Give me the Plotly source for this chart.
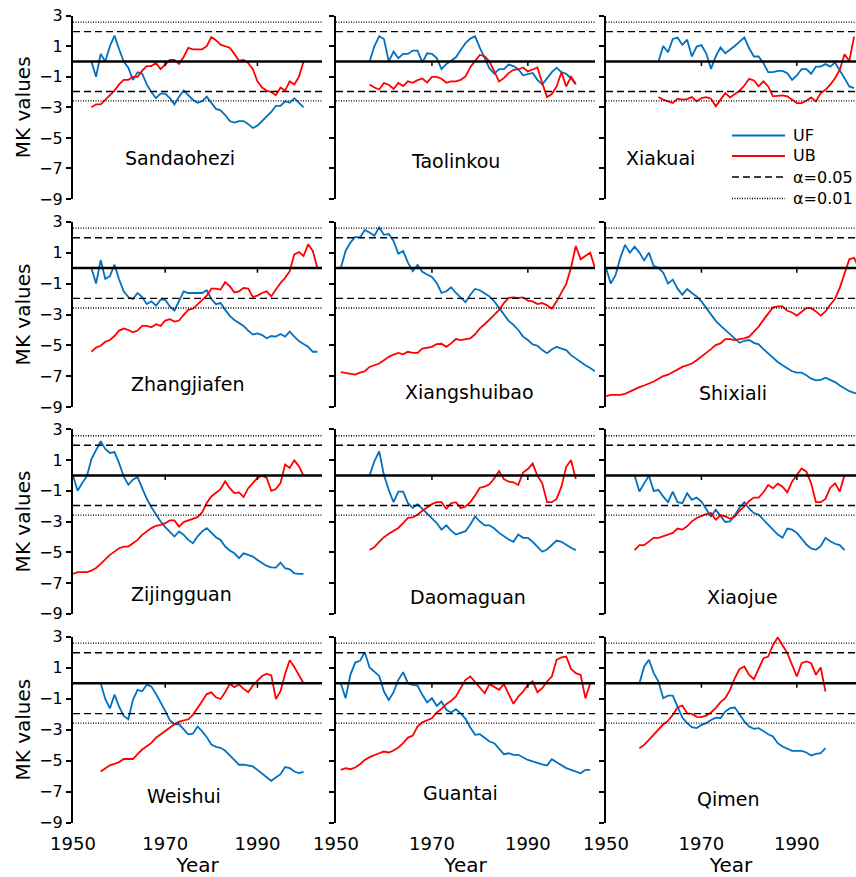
import plotly.graph_objects as go

# ---------------- data: Mann-Kendall statistics per station ----------------
stations = ["Sandaohezi", "Taolinkou", "Xiakuai",
            "Zhangjiafen", "Xiangshuibao", "Shixiali",
            "Zijingguan", "Daomaguan", "Xiaojue",
            "Weishui", "Guantai", "Qimen"]

start_year = {
    "Sandaohezi": 1954, "Taolinkou": 1957, "Xiakuai": 1961,
    "Zhangjiafen": 1954, "Xiangshuibao": 1951, "Shixiali": 1950,
    "Zijingguan": 1950, "Daomaguan": 1957, "Xiaojue": 1956,
    "Weishui": 1956, "Guantai": 1951, "Qimen": 1957,
}

uf_sandaohezi = [0, -1, 0.5, 0, 1, 1.7, 0.8, 0, -0.4, -1.2, -0.7, -0.8, -1.5, -2.0, -2.4, -2.1, -2.1, -2.4,
                 -2.8, -2.3, -1.9, -2.2, -2.5, -2.7, -2.6, -2.3, -2.7, -3.1, -3.2, -3.5, -3.9, -4.0, -3.9,
                 -3.9, -4.1, -4.35, -4.2, -3.9, -3.6, -3.3, -2.9, -2.9, -2.6, -2.7, -2.4, -2.7, -3.0]
ub_sandaohezi = [-3.0, -2.8, -2.8, -2.5, -2.2, -1.9, -1.5, -1.2, -1.2, -1.0, -1.0, -0.6, -0.3, -0.3, -0.1,
                 -0.5, -0.2, 0.1, 0.1, -0.15, 0.3, 0.9, 0.8, 0.8, 0.8, 1.0, 1.6, 1.4, 1.1, 1.0, 0.9, 0.5,
                 0.05, 0.1, -0.1, -0.5, -1.3, -1.7, -1.9, -2.0, -2.2, -1.7, -1.9, -1.3, -1.5, -1.0, 0]

uf_taolinkou = [0, 1.0, 1.65, 1.47, 0, 0.65, 0.22, 0.5, 0.5, 0.72, 0.72, -0.07, 0.54, 0.5, 0.22, -0.5,
                -0.17, 0.05, 0.28, 0.76, 1.2, 1.5, 1.65, 0.9, 0.2, -0.45, -0.8, -0.5, -0.5, -0.2, -0.3,
                -0.5, -0.9, -0.8, -0.75, -1.2, -1.5, -1.1, -0.7, -0.4, -0.7, -0.8, -1.1, -1.5]
ub_taolinkou = [-1.50, -1.70, -1.83, -1.41, -1.52, -1.80, -1.41, -1.61, -1.30, -1.39, -1.22, -1.11, -1.37,
                -1.0, -1.0, -1.13, -1.39, -1.30, -1.30, -1.20, -0.98, -0.37, 0.04, 0.43, 0.35, 0, -0.65,
                -1.30, -1.09, -0.76, -0.54, -0.52, -0.39, -0.65, -0.52, -0.39, -1.41, -2.33, -2.13, -1.63,
                -0.70, -1.63, -1.0, -1.46]

uf_xiakuai = [0, 1.02, 0.61, 1.48, 1.57, 1.09, 1.43, 0.33, 0.98, 1.07, 0.54, -0.48, 0.33, 0.93, 0.54,
              0.76, 1.02, 1.30, 1.57, 0.87, 0.33, 0.33, -0.11, -0.70, -0.70, -0.61, -0.61, -0.76, -1.20,
              -0.91, -0.50, -0.50, -0.80, -0.33, -0.33, -0.17, -0.33, -0.07, -0.54, -1.09, -1.63, -1.74]
ub_xiakuai = [-2.33, -2.5, -2.61, -2.72, -2.43, -2.5, -2.46, -2.33, -2.61, -2.39, -2.33, -2.43, -2.93,
              -2.5, -2.07, -2.35, -2.11, -1.91, -1.57, -1.13, -1.24, -1.63, -1.30, -1.63, -2.28, -2.24,
              -2.22, -2.28, -2.5, -2.72, -2.72, -2.57, -2.35, -2.61, -2.07, -1.85, -1.52, -1.09, -0.54,
              0.48, 0.04, 1.63]

uf_zhangjiafen = [0, -1.0, 0.52, -0.70, -0.52, 0.22, -0.74, -1.5, -1.87, -2.0, -1.61, -1.87, -2.33, -2.15,
                  -2.43, -2.04, -2.04, -2.48, -2.74, -2.09, -1.5, -1.61, -1.61, -1.61, -1.61, -1.43, -2.0,
                  -2.33, -2.26, -2.70, -3.09, -3.35, -3.57, -3.74, -4.04, -4.30, -4.22, -4.33, -4.54,
                  -4.39, -4.43, -4.26, -4.43, -4.11, -4.43, -4.72, -4.91, -5.09, -5.41, -5.41]
ub_zhangjiafen = [-5.41, -5.13, -5.02, -4.76, -4.65, -4.39, -4.04, -3.91, -4.0, -4.15, -4.04, -3.74, -3.74,
                  -3.83, -3.63, -3.74, -3.39, -3.30, -3.46, -3.39, -3.02, -2.70, -2.63, -2.33, -2.04,
                  -1.78, -1.33, -1.33, -1.39, -0.91, -1.17, -1.57, -1.50, -1.28, -1.33, -1.87, -1.78,
                  -1.61, -1.50, -1.83, -1.39, -0.96, -0.63, -0.20, 0.89, 1.04, 0.78, 1.54, 1.11, 0]

uf_xiangshuibao = [0, 1.11, 1.65, 2.02, 1.98, 2.46, 2.30, 2.09, 2.63, 2.15, 2.20, 1.76, 0.93, 1.11, 0.35,
                   -0.20, 0.20, -0.24, -0.41, -0.57, -0.96, -1.61, -1.50, -1.24, -1.61, -1.93, -2.20,
                   -1.72, -1.35, -1.43, -1.61, -1.83, -2.15, -2.59, -3.02, -3.41, -3.67, -4.0, -4.43,
                   -4.65, -4.93, -5.02, -5.30, -5.50, -5.26, -5.09, -5.20, -5.30, -5.63, -5.85, -6.11,
                   -6.28, -6.46, -6.67]
ub_xiangshuibao = [-6.72, -6.78, -6.83, -6.89, -6.76, -6.67, -6.39, -6.28, -6.17, -5.96, -5.74, -5.59,
                   -5.48, -5.57, -5.41, -5.48, -5.48, -5.20, -5.15, -5.09, -4.91, -4.89, -5.09, -4.87,
                   -4.59, -4.65, -4.59, -4.54, -4.28, -3.89, -3.63, -3.35, -3.02, -2.70, -2.26, -1.93,
                   -1.89, -1.93, -1.89, -2.11, -2.15, -2.33, -2.26, -2.41, -2.63, -2.15, -1.57, -1.02,
                   0.02, 1.43, 0.57, 0.78, 1.0, 0]

uf_shixiali = [0, -1.0, -0.46, 0.67, 1.50, 1.0, 1.39, 1.0, 0.50, 1.0, 0.13, 0.02, -0.30, -1.0, -0.74,
               -1.33, -1.72, -1.35, -1.61, -1.83, -2.15, -2.59, -3.02, -3.41, -3.72, -4.0, -4.28, -4.54,
               -4.83, -4.70, -4.65, -4.83, -4.93, -5.24, -5.52, -5.85, -6.07, -6.28, -6.50, -6.67, -6.76,
               -6.76, -6.93, -7.15, -7.26, -7.22, -7.09, -7.22, -7.37, -7.59, -7.80, -7.96, -8.07, -8.1]
ub_shixiali = [-8.28, -8.2, -8.2, -8.2, -8.13, -7.98, -7.85, -7.70, -7.59, -7.48, -7.33, -7.15, -6.98,
               -6.89, -6.72, -6.54, -6.39, -6.28, -6.17, -5.96, -5.74, -5.48, -5.24, -4.98, -4.87, -4.59,
               -4.59, -4.65, -4.59, -4.54, -4.43, -4.11, -3.78, -3.35, -2.91, -2.54, -2.48, -2.48, -2.76,
               -2.87, -3.07, -2.80, -2.59, -2.59, -2.80, -3.07, -2.80, -2.37, -1.98, -1.28, -0.41, 0.57,
               0.67, 0.0]

uf_zijingguan = [0, -1.0, -0.5, -0.07, 1.07, 1.63, 2.22, 1.72, 1.46, 1.52, 0.80, -0.07, -0.61, -0.28,
                 -0.11, -0.83, -1.52, -2.07, -2.57, -3.0, -3.37, -3.65, -3.98, -3.65, -3.87, -4.20, -4.41,
                 -3.98, -3.65, -3.43, -3.76, -4.02, -4.20, -4.63, -4.89, -5.07, -5.39, -5.07, -5.17, -5.28,
                 -5.5, -5.72, -5.89, -5.98, -6.0, -5.67, -6.04, -6.11, -6.37, -6.41, -6.41]
ub_zijingguan = [-6.41, -6.30, -6.30, -6.30, -6.20, -6.02, -5.76, -5.46, -5.17, -4.96, -4.74, -4.63, -4.63,
                 -4.41, -4.20, -3.87, -3.65, -3.43, -3.28, -3.22, -3.11, -2.93, -2.93, -3.33, -3.04, -2.93,
                 -2.85, -2.72, -2.41, -1.80, -1.37, -1.11, -0.89, -0.39, -0.83, -1.15, -1.11, -1.41, -0.83,
                 -0.50, -0.17, -0.02, -0.17, -1.0, -0.89, -0.50, 0.70, 0.48, 0.98, 0.59, -0.02]

uf_daomaguan = [0, 0.92, 1.57, 0.02, -0.95, -1.74, -1.05, -1.05, -1.81, -2.13, -1.87, -2.17, -2.45, -2.77,
                -3.10, -3.53, -3.25, -3.59, -3.85, -3.74, -3.63, -3.20, -2.67, -3.0, -3.25, -3.25, -3.46,
                -3.74, -3.96, -4.17, -4.32, -3.85, -4.06, -4.06, -4.32, -4.67, -4.97, -4.82, -4.54, -4.24,
                -4.32, -4.54, -4.71, -4.86]
ub_daomaguan = [-4.86, -4.67, -4.32, -4.02, -3.80, -3.59, -3.42, -3.10, -2.77, -2.73, -2.56, -2.30, -2.09,
                -1.87, -1.74, -1.74, -2.17, -1.81, -1.74, -2.13, -2.02, -1.74, -1.31, -0.80, -0.73, -0.58,
                -0.19, 0.28, -0.24, -0.41, -0.45, -0.62, 0.19, 0.41, 0.77, -0.02, -0.52, -1.74, -1.74,
                -1.53, -0.73, 0.56, 0.99, -0.24]

uf_xiaojue = [0, -1.05, -0.52, -0.02, -1.01, -0.95, -1.38, -1.74, -1.05, -1.74, -1.81, -1.16, -1.59, -1.44,
              -1.70, -2.17, -2.67, -2.24, -2.62, -3.03, -2.99, -2.60, -2.09, -1.74, -2.17, -2.45, -2.56,
              -2.88, -3.20, -3.46, -3.85, -4.06, -3.46, -3.53, -3.74, -4.11, -4.50, -4.75, -4.84, -4.60,
              -4.06, -4.28, -4.45, -4.54, -4.86]
ub_xiaojue = [-4.86, -4.54, -4.54, -4.32, -4.06, -4.06, -3.96, -3.85, -3.74, -3.46, -3.53, -3.31, -2.99,
              -2.77, -2.62, -2.52, -2.45, -2.88, -2.60, -2.67, -2.82, -2.67, -2.30, -2.02, -1.66, -1.44,
              -1.44, -1.10, -0.62, -0.84, -0.54, -0.73, -1.10, -0.41, 0.02, 0.45, 0.24, -0.52, -1.74,
              -1.74, -1.53, -0.80, -0.52, -1.05, 0.02]

uf_weishui = [0, -1.02, -1.63, -0.74, -1.52, -2.11, -2.33, -1.07, -0.43, -0.52, -0.09, -0.22, -0.70, -1.20,
              -1.78, -2.39, -2.65, -2.65, -2.98, -3.30, -3.26, -2.80, -3.09, -3.48, -3.96, -4.11, -4.17,
              -4.35, -4.65, -4.93, -5.26, -5.26, -5.33, -5.37, -5.59, -5.85, -6.07, -6.30, -6.07, -5.87,
              -5.41, -5.48, -5.70, -5.80, -5.72]
ub_weishui = [-5.70, -5.48, -5.30, -5.20, -5.09, -4.89, -4.89, -4.89, -4.57, -4.28, -4.07, -3.85, -3.52,
              -3.30, -3.09, -2.87, -2.65, -2.48, -2.39, -2.33, -2.04, -1.63, -1.17, -0.70, -0.59, -0.91,
              -1.02, -0.59, -0.04, -0.26, -0.09, -0.37, -0.59, -0.15, 0.17, 0.46, 0.61, 0.50, -1.02,
              -0.52, 0.61, 1.48, 1.04, 0.5, 0]

uf_guantai = [0, -0.97, 0.54, 1.33, 1.44, 2.0, 1.01, 0.75, 0.47, -0.54, -1.08, -0.58, 0.22, 0.71, 0, -0.11,
              -0.15, -0.75, -1.24, -0.97, -1.46, -1.18, -1.72, -1.89, -1.68, -1.94, -2.30, -2.86, -3.33,
              -3.29, -3.51, -3.76, -3.87, -4.24, -4.58, -4.52, -4.62, -4.62, -4.80, -4.95, -5.05, -5.16,
              -5.23, -5.31, -4.90, -5.10, -5.27, -5.48, -5.59, -5.70, -5.81, -5.59, -5.59]
ub_guantai = [-5.59, -5.48, -5.55, -5.44, -5.23, -4.95, -4.77, -4.67, -4.52, -4.41, -4.47, -4.34, -4.15,
              -3.87, -3.51, -3.38, -2.80, -2.52, -2.37, -2.26, -1.89, -1.66, -1.35, -1.14, -0.86, -0.28,
              0.22, 0.43, 0.06, -0.28, -0.65, -0.06, -0.22, -0.43, -0.06, -0.75, -1.33, -0.86, -0.54,
              -0.11, 0.11, -0.58, -0.32, 0.11, 0.43, 1.51, 1.66, 1.72, 0.92, 0.65, 0.54, -0.97, 0]

uf_qimen = [0, 1.08, 1.51, 0.65, 0.11, -0.97, -0.80, -0.80, -1.51, -2.22, -2.58, -2.84, -2.90, -2.69,
            -2.58, -2.37, -2.22, -2.26, -1.83, -1.61, -1.57, -2.0, -2.47, -2.80, -2.95, -2.90, -3.12,
            -3.29, -3.44, -3.87, -4.09, -4.24, -4.37, -4.37, -4.37, -4.47, -4.67, -4.56, -4.52, -4.19]
ub_qimen = [-4.19, -3.98, -3.66, -3.33, -3.01, -2.65, -2.43, -2.04, -1.57, -1.44, -1.94, -1.98, -2.17,
            -2.19, -2.09, -1.89, -1.61, -1.22, -0.97, -0.43, 0.32, 0.92, 1.08, 0.54, 0.26, 0.92, 1.61,
            1.72, 2.47, 2.95, 2.47, 1.94, 1.18, 0.43, 1.29, 1.40, 1.29, 0.54, 1.01, -0.54]

uf_series = [uf_sandaohezi, uf_taolinkou, uf_xiakuai, uf_zhangjiafen, uf_xiangshuibao, uf_shixiali,
             uf_zijingguan, uf_daomaguan, uf_xiaojue, uf_weishui, uf_guantai, uf_qimen]
ub_series = [ub_sandaohezi, ub_taolinkou, ub_xiakuai, ub_zhangjiafen, ub_xiangshuibao, ub_shixiali,
             ub_zijingguan, ub_daomaguan, ub_xiaojue, ub_weishui, ub_guantai, ub_qimen]

# station name placement (year, MK value) inside each panel
label_pos = [(1973.3, -6.3), (1975.0, -6.5), (1961.4, -6.3),
             (1974.8, -7.5), (1977.8, -8.0), (1976.7, -8.1),
             (1973.5, -7.7), (1977.5, -7.9), (1978.7, -7.9),
             (1974.0, -7.3), (1975.9, -7.1), (1975.6, -7.45)]

# significance levels
z05 = 1.96
z01 = 2.58
y_ticks = [3, 1, -1, -3, -5, -7, -9]
x_ticks = [1950, 1970, 1990]
inner_ticks = [1970, 1990]

BLUE = "#0070C0"
RED = "#FF0000"
DASH05 = "7px,4px"
DOT01 = "1px,1.5px"

# legend entries: (label, colour, width, dash)
legend_items = [("UF", BLUE, 1.8, "solid"),
                ("UB", RED, 1.8, "solid"),
                ("\u03b1=0.05", "black", 1.4, DASH05),
                ("\u03b1=0.01", "black", 1.3, DOT01)]

# ---------------- layout geometry ----------------
W, H = 856, 877
col_px = [(73, 322), (336, 595), (606, 856)]
row_px = [(15.7, 199), (221.7, 407.3), (429.3, 613.7), (636.7, 822.7)]
x_end = [2004, 2004, 2002.4]

FONT = "DejaVu Sans, sans-serif"

fig = go.Figure()
layout = dict(template="none", width=W, height=H, margin=dict(l=0, r=0, t=0, b=0),
              paper_bgcolor="white", plot_bgcolor="white", shapes=[], annotations=[],
              showlegend=False, font=dict(family=FONT, color="black"))

for k, name in enumerate(stations):
    r, c = divmod(k, 3)
    sfx = "" if k == 0 else str(k + 1)
    xa, ya = "x" + sfx, "y" + sfx
    x0p, x1p = col_px[c]
    y0p, y1p = row_px[r]
    xr = [1950, x_end[c]]

    layout["xaxis" + sfx] = dict(
        domain=[x0p / W, x1p / W], anchor=ya, range=xr, automargin=False,
        showline=False, showgrid=False, zeroline=False,
        tickvals=x_ticks, ticks="", showticklabels=(r == 3), ticklabelstandoff=8,
        tickfont=dict(family=FONT, size=18, color="black"),
        title=dict(text="Year" if r == 3 else "", font=dict(family=FONT, size=20, color="black"),
                   standoff=4),
    )
    layout["yaxis" + sfx] = dict(
        domain=[1 - y1p / H, 1 - y0p / H], anchor=xa, range=[-9, 3], automargin=False,
        showline=True, linecolor="black", linewidth=2, mirror=False,
        showgrid=False, zeroline=False,
        tickvals=y_ticks, ticks="outside", ticklen=5, tickwidth=2, tickcolor="black",
        showticklabels=(c == 0),
        tickfont=dict(family=FONT, size=16, color="black"),
        title=dict(text="MK values" if c == 0 else "", font=dict(family=FONT, size=20, color="black"),
                   standoff=3),
    )

    years = list(range(start_year[name], start_year[name] + len(uf_series[k])))

    fig.add_trace(go.Scatter(x=years, y=uf_series[k], mode="lines", name="UF",
                             line=dict(color=BLUE, width=1.8), xaxis=xa, yaxis=ya))
    fig.add_trace(go.Scatter(x=years, y=ub_series[k], mode="lines", name="UB",
                             line=dict(color=RED, width=1.8), xaxis=xa, yaxis=ya))
    fig.add_trace(go.Scatter(x=[xr[0], xr[1], None, xr[0], xr[1]], y=[z05, z05, None, -z05, -z05],
                             mode="lines", name="\u03b1=0.05",
                             line=dict(color="black", width=1.4, dash=DASH05),
                             xaxis=xa, yaxis=ya))
    fig.add_trace(go.Scatter(x=[xr[0], xr[1], None, xr[0], xr[1]], y=[z01, z01, None, -z01, -z01],
                             mode="lines", name="\u03b1=0.01",
                             line=dict(color="black", width=1.3, dash=DOT01),
                             xaxis=xa, yaxis=ya))

    # zero reference line and the small year ticks hanging from it
    layout["shapes"].append(dict(type="line", xref=xa + " domain", yref=ya, x0=0, x1=1, y0=0, y1=0,
                                 line=dict(color="black", width=2.5), layer="above"))
    for t in inner_ticks:
        layout["shapes"].append(dict(type="line", xref=xa, yref=ya, x0=t, x1=t, y0=0, y1=-0.3,
                                     line=dict(color="black", width=1.5)))

    lx, ly = label_pos[k]
    layout["annotations"].append(dict(x=lx, y=ly, xref=xa, yref=ya, text=name, showarrow=False,
                                      font=dict(family=FONT, size=19, color="black")))

# key drawn inside the upper-right panel
key_x0, key_x1, key_text_x = 732, 785, 791
key_rows = [135.5, 156, 177, 198.5]
for (label, colr, lw, dash), yy in zip(legend_items, key_rows):
    layout["shapes"].append(dict(type="line", xref="paper", yref="paper",
                                 x0=key_x0 / W, x1=key_x1 / W, y0=1 - yy / H, y1=1 - yy / H,
                                 line=dict(color=colr, width=lw, dash=dash)))
    layout["annotations"].append(dict(x=key_text_x / W, y=1 - yy / H, xref="paper", yref="paper",
                                      xanchor="left", yanchor="middle", text=label, showarrow=False,
                                      font=dict(family=FONT, size=16, color="black")))

fig.update_layout(**layout)
fig.write_html("out.html")
